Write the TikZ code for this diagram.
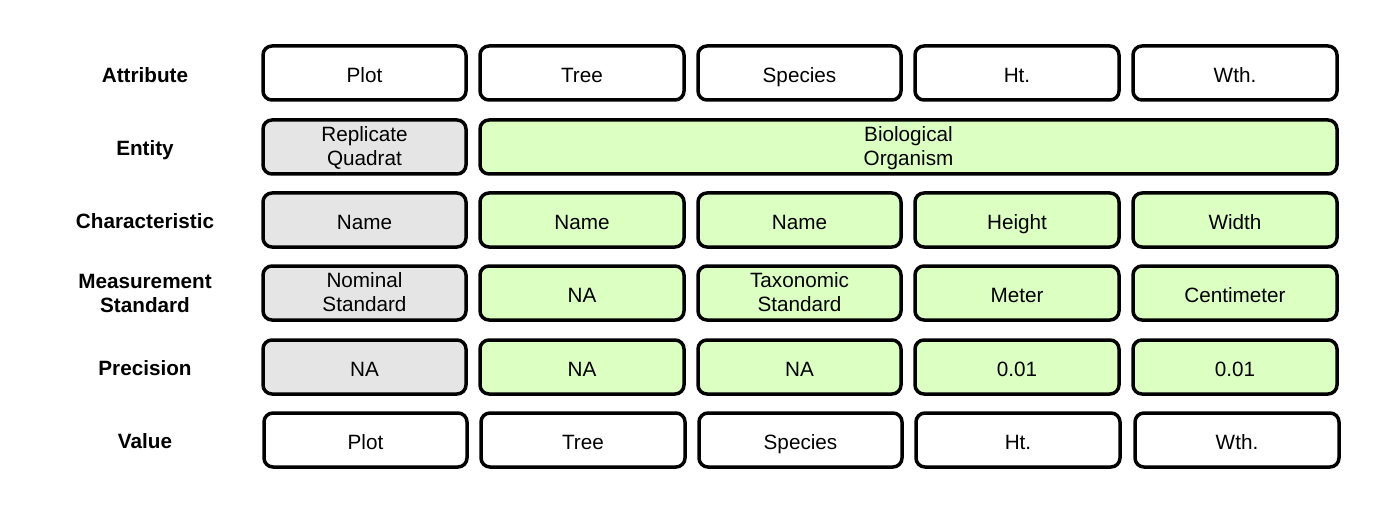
\documentclass[tikz,border=0pt]{standalone}
\usepackage{fontspec}
\setmainfont{Liberation Sans}
\definecolor{grayfill}{HTML}{E5E5E5}
\definecolor{greenfill}{HTML}{DCFFC2}
\newcommand{\cs}{\rule[-6pt]{0pt}{31pt}}
\newcommand{\ctop}{\rule{0pt}{19pt}}
\newcommand{\cbot}{\rule[-6pt]{0pt}{6pt}}
\begin{document}
\begin{tikzpicture}[x=1pt,y=-1pt,
  cell/.style={draw=black,line width=3.5pt,rounded corners=9pt,align=center,
    font=\fontsize{20.7}{24}\selectfont,inner sep=0pt},
  white/.style={cell,fill=white},
  grayc/.style={cell,fill=grayfill},
  greenc/.style={cell,fill=greenfill},
  rowlabel/.style={align=center,font=\fontsize{20.7}{24}\selectfont\bfseries,inner sep=0pt}]
\useasboundingbox (0,0) rectangle (1384,513);
\def\colbox#1#2#3#4#5#6{% name, style, x1, x2, y1, text
  \node[#2,minimum width=#4-#3,minimum height=54] (#1) at ({(#3+#4)/2},#5+27) {#6};}
% Row labels
\node[rowlabel] (lA) at (145,73) {\cs Attribute};
\node[rowlabel] (lE) at (145,146) {\cs Entity};
\node[rowlabel] (lC) at (145,219) {\cs Characteristic};
\node[rowlabel] (lM) at (145,294) {\ctop Measurement\\Standard\cbot};
\node[rowlabel] (lP) at (145,366) {\cs Precision};
\node[rowlabel] (lV) at (145,439) {\cs Value};
% Row 1
\colbox{a1}{white}{263}{466}{46}{\cs Plot}
\colbox{a2}{white}{480}{684}{46}{\cs Tree}
\colbox{a3}{white}{698}{901}{46}{\cs Species}
\colbox{a4}{white}{915}{1119}{46}{\cs Ht.}
\colbox{a5}{white}{1133}{1337}{46}{\cs Wth.}
% Row 2
\colbox{e1}{grayc}{263}{466}{120}{\ctop Replicate\\Quadrat\cbot}
\colbox{e2}{greenc}{480}{1337}{120}{\ctop Biological\\Organism\cbot}
% Row 3
\colbox{c1}{grayc}{263}{466}{193}{\cs Name}
\colbox{c2}{greenc}{480}{684}{193}{\cs Name}
\colbox{c3}{greenc}{698}{901}{193}{\cs Name}
\colbox{c4}{greenc}{915}{1119}{193}{\cs Height}
\colbox{c5}{greenc}{1133}{1337}{193}{\cs Width}
% Row 4
\colbox{m1}{grayc}{263}{466}{266}{\ctop Nominal\\Standard\cbot}
\colbox{m2}{greenc}{480}{684}{266}{\cs NA}
\colbox{m3}{greenc}{698}{901}{266}{\ctop Taxonomic\\Standard\cbot}
\colbox{m4}{greenc}{915}{1119}{266}{\cs Meter}
\colbox{m5}{greenc}{1133}{1337}{266}{\cs Centimeter}
% Row 5
\colbox{p1}{grayc}{263}{466}{340}{\cs NA}
\colbox{p2}{greenc}{480}{684}{340}{\cs NA}
\colbox{p3}{greenc}{698}{901}{340}{\cs NA}
\colbox{p4}{greenc}{915}{1119}{340}{\cs 0.01}
\colbox{p5}{greenc}{1133}{1337}{340}{\cs 0.01}
% Row 6
\colbox{v1}{white}{264}{467}{413}{\cs Plot}
\colbox{v2}{white}{481}{685}{413}{\cs Tree}
\colbox{v3}{white}{699}{902}{413}{\cs Species}
\colbox{v4}{white}{916}{1120}{413}{\cs Ht.}
\colbox{v5}{white}{1135}{1339}{413}{\cs Wth.}
\end{tikzpicture}
\end{document}
